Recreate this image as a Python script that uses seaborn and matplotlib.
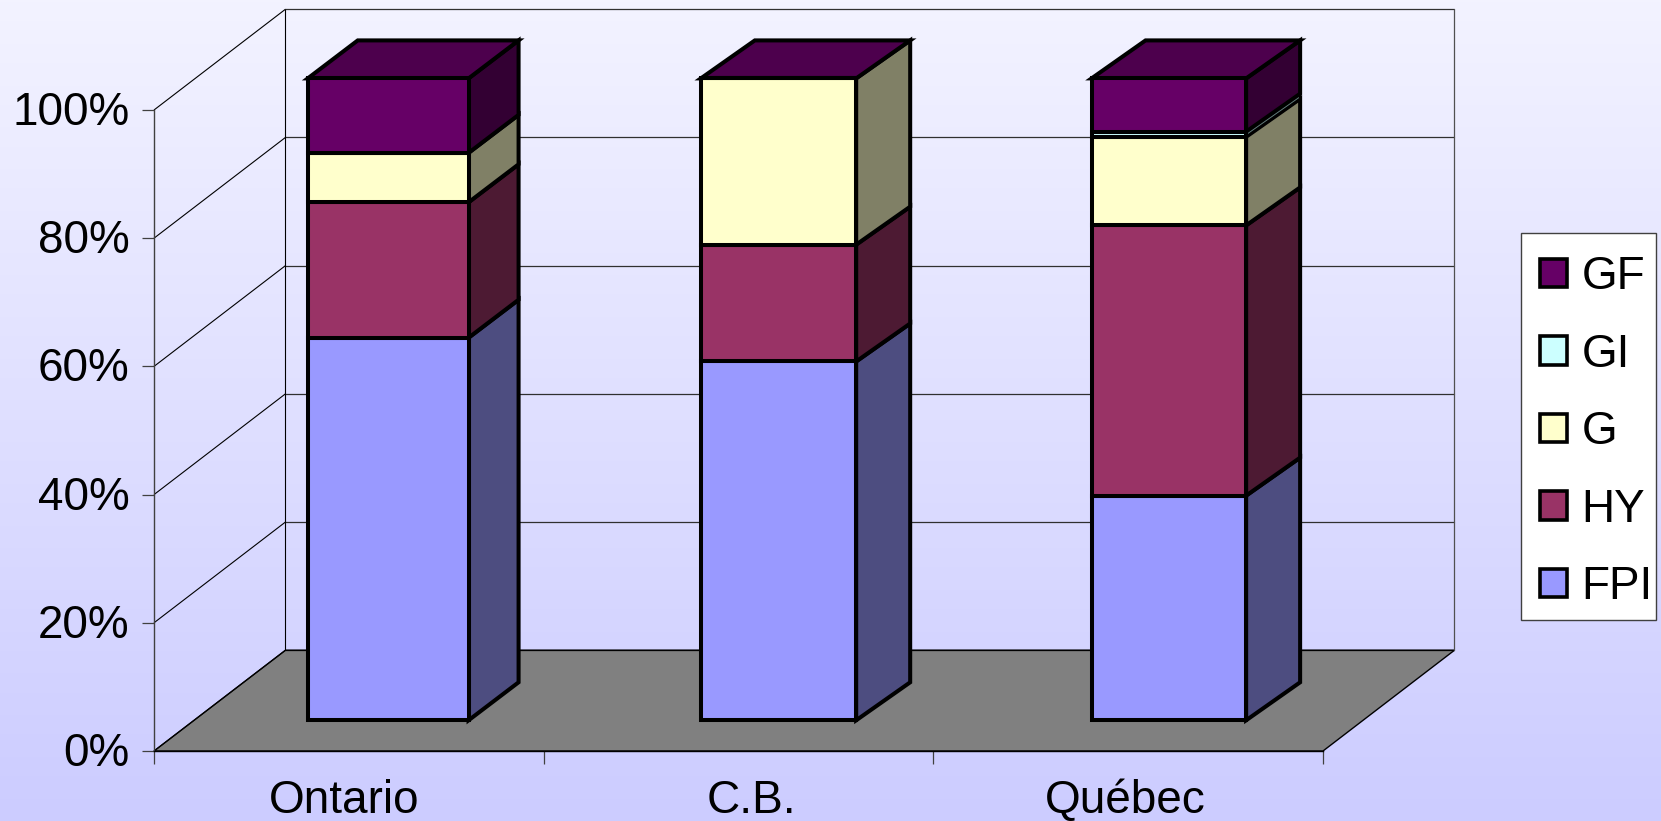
import numpy as np
import matplotlib
matplotlib.use("Agg")
import matplotlib.pyplot as plt
from matplotlib.colors import LinearSegmentedColormap
from matplotlib.patches import Polygon, Patch, Rectangle
from matplotlib.transforms import ScaledTranslation
import seaborn as sns

categories = ["Ontario", "C.B.", "Québec"]
series_names = ["FPI", "HY", "G", "GI", "GF"]
fpi = [59.6, 55.9, 35.0]
hy = [21.1, 18.2, 42.1]
g = [7.7, 25.9, 13.8]
gi = [0.0, 0.0, 0.8]
gf = [11.6, 0.0, 8.3]
series_values = [fpi, hy, g, gi, gf]
front_colors = ["#9999ff", "#993366", "#ffffcc", "#ccffff", "#660066"]
side_colors = ["#4d4d80", "#4d1a33", "#808066", "#668080", "#330033"]
top_color = "#4d004d"
y_ticks = [0, 20, 40, 60, 80, 100]

W, H = 1661, 821
sns.set_theme(style="white")
plt.rcParams["font.family"] = ["Liberation Sans", "DejaVu Sans"]
plt.rcParams["text.color"] = "black"
fig = plt.figure(figsize=(W / 100, H / 100), dpi=100)


def rect(l, t, r, b):
    return [l / W, 1 - b / H, (r - l) / W, (b - t) / H]


# background gradient
bg = fig.add_axes([0, 0, 1, 1], zorder=0)
cm = LinearSegmentedColormap.from_list("bg", ["#f3f3ff", "#ccccff"])
bg.imshow(np.linspace(0, 1, 256)[:, None], aspect="auto", cmap=cm, vmin=0, vmax=1)
bg.axis("off")

# frame: front plane of the chart box
L, R, T, B = 154.0, 1323.0, 110.0, 751.0
frame = fig.add_axes(rect(L, T, R, B), zorder=1)
frame.patch.set_visible(False)
frame.set_xlim(0, 3)
frame.set_ylim(0, 100)
for s in ["top", "right"]:
    frame.spines[s].set_visible(False)
frame.spines["left"].set_color("#404040")
frame.spines["left"].set_linewidth(1.0)
frame.spines["bottom"].set_color("black")
frame.spines["bottom"].set_linewidth(1.0)
frame.set_yticks(y_ticks)
frame.set_yticklabels([f"{v}%" for v in y_ticks], fontsize=33, color="black")
frame.set_xticks([0, 1, 2, 3])
frame.set_xticklabels([])
frame.set_xticks([0.487, 1.532, 2.492], minor=True)
frame.set_xticklabels(categories, minor=True, fontsize=33, color="black")
frame.tick_params(axis="y", which="major", length=9, width=0.9, color="#404040", pad=8.5, left=True)
frame.tick_params(axis="x", which="major", length=9, width=0.9, color="#404040", bottom=True)
frame.tick_params(axis="x", which="minor", length=0, pad=20, bottom=False)
shift_up = ScaledTranslation(0, 2 / 100, fig.dpi_scale_trans)
for lab in frame.get_yticklabels():
    lab.set_transform(lab.get_transform() + shift_up)

DX, DY = 131.5 / 389.67, 100.8 / 6.41
line = dict(color="black", lw=0.8, clip_on=False, solid_capstyle="butt")
frame.add_patch(Polygon([(0, 0), (3, 0), (3 + DX, DY), (DX, DY)], closed=True,
                        facecolor="#808080", edgecolor="black", lw=1.0, clip_on=False, zorder=1))
for v in y_ticks:
    frame.plot([0, DX], [v, v + DY], zorder=1.5, **line)
    frame.plot([DX, 3 + DX], [v + DY, v + DY], zorder=1.5,
               color="#303030" if v else "black", lw=0.9, clip_on=False)
frame.plot([DX, DX], [DY, 100 + DY], zorder=1.5, **line)
frame.plot([3 + DX, 3 + DX], [DY, 100 + DY], zorder=1.5, color="#505050", lw=0.9, clip_on=False)

# bars: plane shifted into the depth of the box
ax = fig.add_axes(rect(193.0, 78.4, 1364.0, 720.3), zorder=2)
ax.patch.set_visible(False)
bar_widths = [0.412, 0.398, 0.396]
depth_x = [50.0 / 390.3, 54.0 / 390.3, 54.0 / 390.3]
EDGE = 2.9
bottom = np.zeros(3)
dy = 38.0 / 6.42
for vals, fc, sc in zip(series_values, front_colors, side_colors):
    vals = np.array(vals)
    n_before = len(ax.patches)
    sns.barplot(x=categories, y=vals, bottom=bottom, color=fc, saturation=1, width=0.4,
                edgecolor="black", linewidth=EDGE, ax=ax, order=categories, clip_on=False, zorder=3)
    for i, p in enumerate(ax.patches[n_before:]):
        p.set_x(i - bar_widths[i] / 2)
        p.set_width(bar_widths[i])
        p.set_joinstyle("miter")
    for i, (b, v) in enumerate(zip(bottom, vals)):
        if v <= 0:
            continue
        xr = i + bar_widths[i] / 2
        dx = depth_x[i]
        ax.add_patch(Polygon([(xr, b), (xr + dx, b + dy), (xr + dx, b + v + dy), (xr, b + v)],
                             closed=True, facecolor=sc, edgecolor="black",
                             lw=1.8 if v < 2 else EDGE,
                             clip_on=False, zorder=2.5, joinstyle="miter"))
    bottom = bottom + vals
for i, t in enumerate(bottom):
    xl, xr = i - bar_widths[i] / 2, i + bar_widths[i] / 2
    dx = depth_x[i]
    ax.add_patch(Polygon([(xl, t), (xr, t), (xr + dx, t + dy), (xl + dx, t + dy)], closed=True,
                         facecolor=top_color, edgecolor="black", lw=EDGE, clip_on=False,
                         zorder=2.5, joinstyle="miter"))
ax.set_xlim(-0.5, 2.5)
ax.set_ylim(0, 100)
ax.axis("off")

# legend box is wider on the left than on the right, so its frame is drawn apart
fig.add_artist(Rectangle((1521 / W, 1 - 620 / H), 135 / W, 387 / H, transform=fig.transFigure,
                         facecolor="white", edgecolor="#404040", lw=1.0, zorder=4))
handles = [Patch(facecolor=c, edgecolor="black", lw=2.6, label=n)
           for n, c in zip(series_names, front_colors)][::-1]
leg = fig.legend(handles=handles, loc="upper left", bbox_to_anchor=(1540 / W, 1 - 255 / H),
                 bbox_transform=fig.transFigure, fontsize=33, frameon=False, handlelength=0.58,
                 handleheight=0.58, handletextpad=0.33, labelspacing=0.731, borderpad=0,
                 borderaxespad=0)
leg.set_zorder(5)
fig.savefig("out.png", dpi=100)
